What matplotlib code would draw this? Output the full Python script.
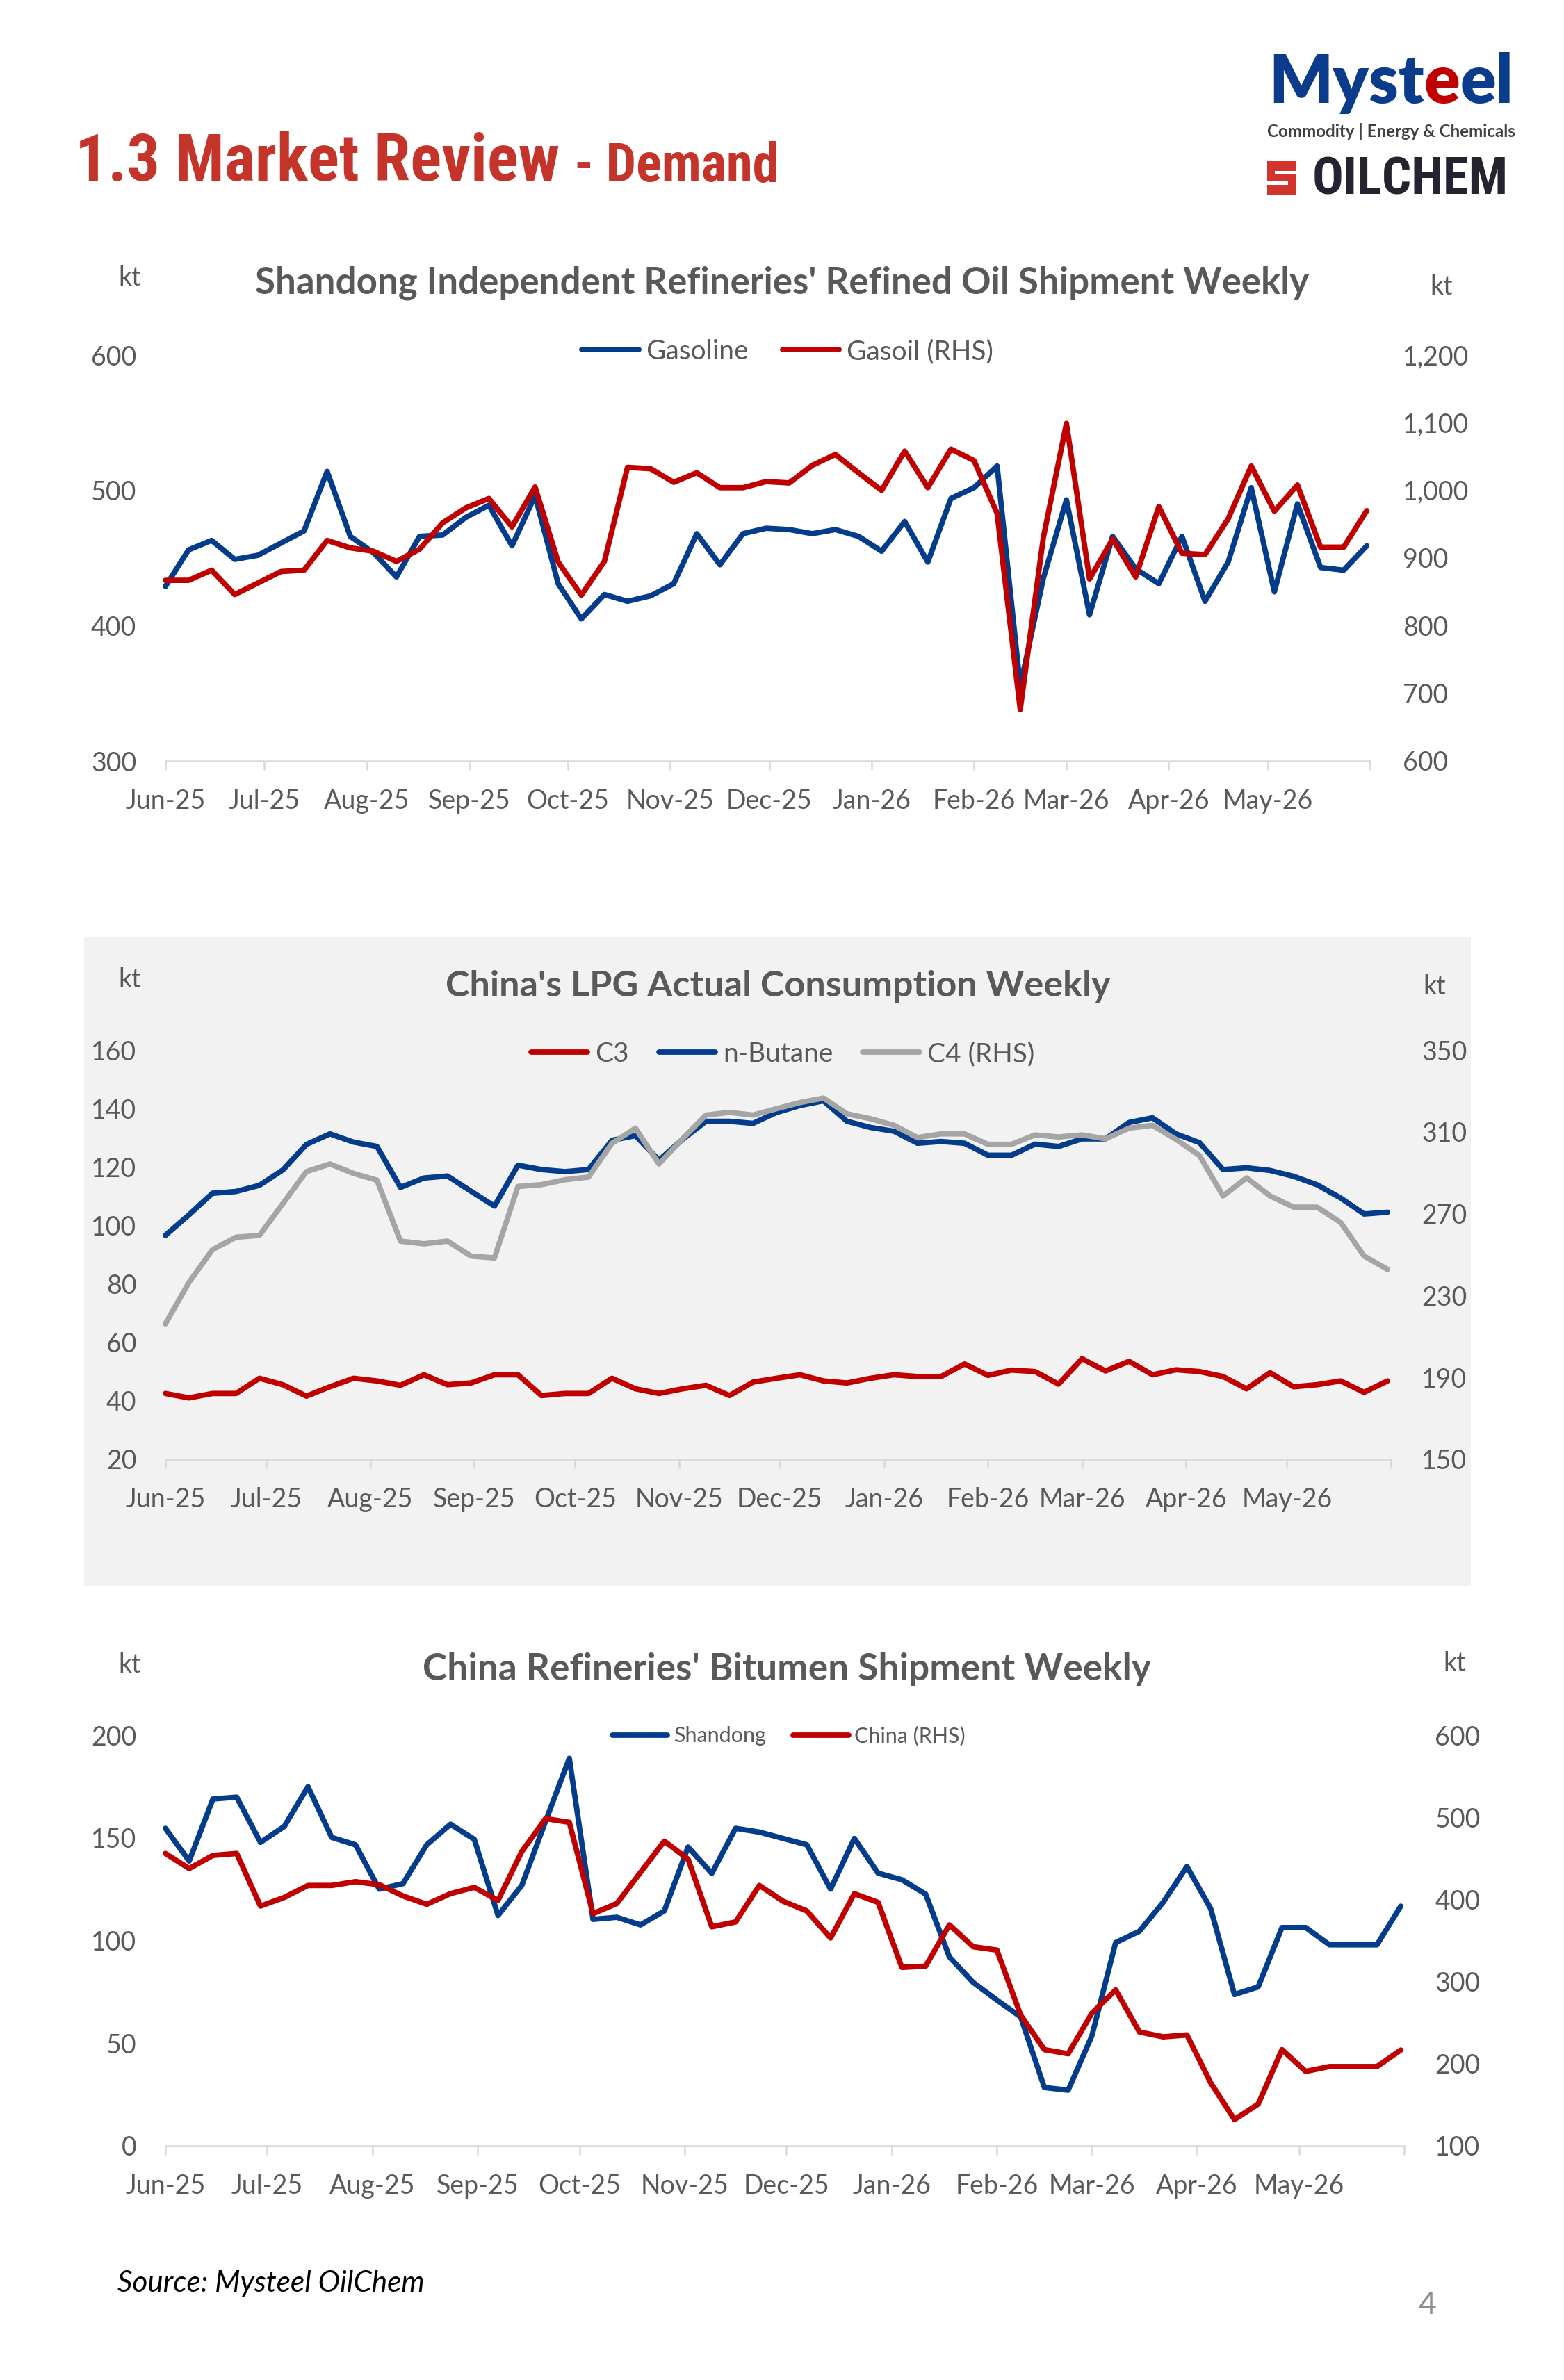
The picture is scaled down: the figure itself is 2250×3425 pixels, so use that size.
import pandas as pd
import matplotlib
matplotlib.use('Agg')
import matplotlib.pyplot as plt
import matplotlib.dates as mdates
from matplotlib import font_manager
from matplotlib.patches import Rectangle
from matplotlib.lines import Line2D
from matplotlib.ticker import StrMethodFormatter

W, H = 2250, 3425

# weekly dates and month axis
weeks = pd.date_range('2025-06-01', periods=53, freq='7D')
months = pd.date_range('2025-06-01', '2026-06-01', freq='MS')
month_labels = [m.strftime('%b-%y') for m in months[:-1]] + ['']

# Shandong independent refineries, refined oil shipment (kt)
gasoline = [429, 456, 463, 449, 452, 461, 470, 514, 466, 454, 436, 466, 467, 480, 489, 459,
            496, 431, 405, 423, 418, 422, 431, 468, 445, 468, 472, 471, 468, 471, 466, 455,
            477, 447, 494, 502, 518, 355, 435, 493, 408, 466, 442, 431, 466, 418, 447, 502,
            425, 490, 443, 441, 459]
gasoil = [867, 867, 882, 846, 863, 880, 882, 926, 915, 910, 895, 913, 952, 974, 988, 946,
          1005, 894, 845, 895, 1034, 1032, 1012, 1026, 1004, 1004, 1013, 1011, 1037, 1053,
          1026, 1000, 1058, 1004, 1061, 1044, 966, 676, 930, 1099, 869, 928, 872, 976, 907,
          905, 958, 1036, 969, 1008, 916, 916, 970]
refined_left_ticks = [300, 400, 500, 600]
refined_right_ticks = [600, 700, 800, 900, 1000, 1100, 1200]

# China LPG actual consumption (kt)
c3 = [42.5, 41, 42.5, 42.5, 47.7, 45.5, 41.6, 44.8, 47.7, 46.8, 45.3, 48.9, 45.5, 46.1, 48.9,
      48.9, 41.8, 42.5, 42.5, 47.7, 44.1, 42.5, 44.1, 45.3, 41.8, 46.4, 47.7, 48.9, 46.8, 46.1,
      47.7, 48.9, 48.3, 48.3, 52.6, 48.7, 50.5, 50, 45.7, 54.4, 50.2, 53.5, 48.9, 50.6, 50,
      48.3, 44.1, 49.6, 44.8, 45.5, 46.8, 42.9, 46.8]
n_butane = [96.6, 103.6, 111, 111.6, 113.7, 119, 127.7, 131.3, 128.5, 127, 113, 116.2, 116.9,
            111.7, 106.6, 120.6, 119.1, 118.4, 119.1, 129.1, 130.7, 122.3, 129.4, 135.6, 135.6,
            134.9, 138.6, 141, 142.6, 135.6, 133.5, 132.2, 128.1, 128.7, 128.1, 124, 124, 127.8,
            127, 129.6, 129.6, 135.2, 136.8, 131.3, 128.3, 119.1, 119.7, 118.8, 116.8, 113.9,
            109.4, 103.9, 104.5]
c4 = [216.2, 236.4, 252.4, 258.5, 259.4, 275, 290.6, 294.3, 289.7, 286.4, 256.6, 255.3, 256.6,
      249.3, 248.4, 283.3, 284.2, 286.6, 287.9, 304.4, 311.8, 294.3, 306.6, 318.2, 319.5, 318.2,
      321.3, 324.3, 326.5, 318.8, 316.4, 313.2, 307.2, 309, 309, 303.9, 303.9, 308.5, 307.5,
      308.5, 306.6, 311.8, 313.2, 306.3, 298.4, 278.7, 287.5, 278.7, 273.2, 273.2, 265.8,
      249.3, 242.8]
lpg_left_ticks = [20, 40, 60, 80, 100, 120, 140, 160]
lpg_right_ticks = [150, 190, 230, 270, 310, 350]

# China refineries bitumen shipment (kt)
bitumen_shandong = [154.6, 138.7, 168.9, 169.8, 147.8, 155.5, 174.9, 150.2, 146.6, 125, 127.7,
                    146.6, 156.6, 149.3, 112.2, 126.8, 158, 188.7, 110.3, 111.3, 107.6, 114.4,
                    145.5, 132.7, 154.6, 152.8, 149.7, 146.6, 125, 149.7, 132.8, 129.6, 122.6,
                    92, 79.6, 71, 62.8, 28.4, 27.1, 53.6, 99, 104.5, 118.6, 136, 115.5, 73.7,
                    77.4, 106.3, 106.3, 97.9, 97.9, 97.9, 116.7]
bitumen_china = [455.9, 437.6, 453.6, 455.9, 391.9, 402.4, 417, 417, 421.6, 418, 404.2, 394.1,
                 407, 414.7, 398.7, 458.2, 498.4, 493.9, 382.7, 395, 433, 471, 449, 366.7,
                 372.6, 417, 397.8, 385.9, 353, 407, 396.4, 317.3, 318.7, 369, 342.4, 338.3,
                 259.2, 217.1, 212.1, 261.5, 289.8, 238.6, 232.7, 235, 176.8, 132, 150.8,
                 217.1, 190.6, 196.5, 196.5, 196.5, 216.6]
bitumen_left_ticks = [0, 50, 100, 150, 200]
bitumen_right_ticks = [100, 200, 300, 400, 500, 600]

BLUE = '#033C8A'
RED = '#C00000'
GREY = '#A5A5A5'
TXT = '#595959'
AXIS = '#D9D9D9'
HEAD = '#C4342A'
LW = 5.6

names = {f.name for f in font_manager.fontManager.ttflist}
def first_font(*cands):
    for c in cands:
        if c in names:
            return c
    return 'DejaVu Sans'

BODY = first_font('Lato', 'Open Sans', 'Liberation Sans')
NARROW = first_font('Liberation Sans Narrow', 'Roboto Condensed', 'Roboto', 'Liberation Sans')
plt.rcParams['font.family'] = [BODY, 'DejaVu Sans']

fig = plt.figure(figsize=(W / 100, H / 100), dpi=100)
fig.patch.set_facecolor('white')
R = fig.canvas.get_renderer()

def fx(x):
    return x / W

def fy(y):
    return 1 - y / H

def ftext(x, y, s, **kw):
    return fig.text(fx(x), fy(y), s, **kw)

def fit(t, width):
    for _ in range(2):
        t.set_fontsize(t.get_fontsize() * width / t.get_window_extent(R).width)
    return t

def text_run(x, y, pieces, width, **kw):
    ts = [ftext(x, y, s, color=c, **kw) for s, c in pieces]
    for _ in range(2):
        total = sum(t.get_window_extent(R).width for t in ts)
        for t in ts:
            t.set_fontsize(t.get_fontsize() * width / total)
    cx = x
    for t in ts:
        t.set_x(fx(cx))
        cx += t.get_window_extent(R).width
    return ts

def frect(x0, y0, x1, y1, color, z=-1):
    fig.add_artist(Rectangle((fx(x0), fy(y1)), (x1 - x0) / W, (y1 - y0) / H,
                             transform=fig.transFigure, facecolor=color,
                             edgecolor='none', zorder=z))

xs = mdates.date2num(weeks.to_pydatetime())
xt = mdates.date2num(months.to_pydatetime())

def line_chart(box, lticks, rticks, series, rfmt, rpad):
    x0, y0, x1, y1 = box
    ax = fig.add_axes([fx(x0), fy(y1), (x1 - x0) / W, (y1 - y0) / H])
    ax2 = ax.twinx()
    for a in (ax, ax2):
        a.set_facecolor('none')
        for s in a.spines.values():
            s.set_visible(False)
    ax.spines['bottom'].set_visible(True)
    ax.spines['bottom'].set_color(AXIS)
    ax.spines['bottom'].set_linewidth(1.8)
    ax.set_xlim(xt[0], xt[-1])
    ax.set_xticks(xt)
    ax.set_xticklabels(month_labels)
    ax.tick_params(axis='x', length=9, width=1.8, color=AXIS, labelsize=27,
                   labelcolor=TXT, pad=20)
    ax.set_ylim(lticks[0], lticks[-1])
    ax.set_yticks(lticks)
    ax.tick_params(axis='y', length=0, pad=30, labelsize=27, labelcolor=TXT)
    ax2.set_ylim(rticks[0], rticks[-1])
    ax2.set_yticks(rticks)
    ax2.yaxis.set_major_formatter(StrMethodFormatter(rfmt))
    ax2.tick_params(axis='y', length=0, pad=rpad, labelsize=27, labelcolor=TXT)
    for vals, color, side in series:
        a = ax2 if side == 'R' else ax
        a.plot(xs, vals, color=color, lw=LW, solid_joinstyle='round',
               solid_capstyle='round', clip_on=False)
    return ax, ax2

def legend(cx, cy, items, fs, hl, cs):
    handles = [Line2D([], [], color=c, lw=LW, solid_capstyle='round') for _, c in items]
    fig.legend(handles, [l for l, _ in items], loc='center',
               bbox_to_anchor=(fx(cx), fy(cy)), ncol=len(items), frameon=False,
               fontsize=fs, handlelength=hl, handletextpad=0.28, columnspacing=cs,
               labelcolor=TXT)

def title(cx, base, s, width):
    t = ftext(cx, base, s, ha='center', va='baseline', fontsize=40,
              fontweight='bold', color=TXT)
    fit(t, width)

def kt(x, base):
    ftext(x, base, 'kt', ha='left', va='baseline', fontsize=27, color=TXT)

# ---- header ----
h1 = ftext(108, 260, '1.3 Market Review', family=[NARROW, 'DejaVu Sans'],
           fontweight='bold', color=HEAD, fontsize=60, va='baseline')
fit(h1, 697)
h2 = ftext(826, 260, '- Demand', family=[NARROW, 'DejaVu Sans'],
           fontweight='bold', color=HEAD, fontsize=45, va='baseline')
fit(h2, 295)

# logo
text_run(1825, 148, [('Myst', '#0B3C8C'), ('e', '#C00000'), ('el', '#0B3C8C')], 352,
         fontsize=60, fontweight='heavy', va='baseline')
text_run(1823, 197, [('Commodity | Energy & Chemicals', '#404040')], 354,
         fontsize=14, fontweight='bold', va='baseline')
frect(1823, 232, 1864, 281, '#D0342C', z=1)
frect(1834, 246, 1864, 251, 'white', z=2)
frect(1823, 261, 1853, 266, 'white', z=2)
text_run(1888, 280, [('OILCHEM', '#25232F')], 282, fontsize=40,
         family=[NARROW, 'DejaVu Sans'], fontweight='bold', va='baseline')

# ---- chart 1: refined oil ----
title(1125, 422, "Shandong Independent Refineries' Refined Oil Shipment Weekly", 1516)
kt(170, 411)
kt(2057, 424)
line_chart((238, 511, 1971, 1095), refined_left_ticks, refined_right_ticks,
           [(gasoline, BLUE, 'L'), (gasoil, RED, 'R')], '{x:,.0f}', 34)
legend(1133, 506, [('Gasoline', BLUE), ('Gasoil (RHS)', RED)], 28, 2.1, 1.25)

# ---- chart 2: LPG ----
frect(121, 1348, 2116, 2282, '#F2F2F2')
title(1119, 1434, "China's LPG Actual Consumption Weekly", 958)
kt(170, 1421)
kt(2047, 1431)
line_chart((238, 1511, 2001, 2100), lpg_left_ticks, lpg_right_ticks,
           [(c3, RED, 'L'), (n_butane, BLUE, 'L'), (c4, GREY, 'R')], '{x:.0f}', 32)
legend(1126, 1517, [('C3', RED), ('n-Butane', BLUE), ('C4 (RHS)', GREY)], 28, 2.1, 1.1)

# ---- chart 3: bitumen ----
title(1132, 2418, "China Refineries' Bitumen Shipment Weekly", 1048)
kt(170, 2407)
kt(2076, 2405)
line_chart((238, 2497, 2020, 3088), bitumen_left_ticks, bitumen_right_ticks,
           [(bitumen_shandong, BLUE, 'L'), (bitumen_china, RED, 'R')], '{x:.0f}', 32)
legend(1135, 2498, [('Shandong', BLUE), ('China (RHS)', RED)], 22, 2.6, 1.3)

# ---- footer ----
src = ftext(169, 3298, 'Source: Mysteel OilChem', style='italic', color='black',
            fontsize=22, va='baseline')
fit(src, 440)
ftext(2053, 3330, '4', ha='center', va='baseline', fontsize=32, color='#8C8C8C')

fig.savefig('out.png', dpi=100, facecolor='white')
